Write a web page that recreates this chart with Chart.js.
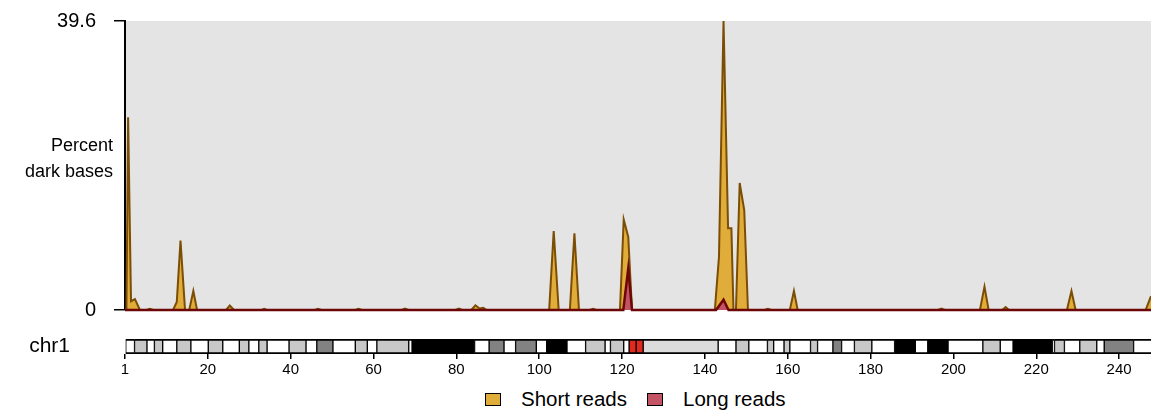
<!DOCTYPE html>
<html>
<head>
<meta charset="utf-8">
<script src="https://cdn.jsdelivr.net/npm/chart.js@4.4.0/dist/chart.umd.min.js"></script>
<style>
  html, body { margin: 0; padding: 0; background: #fff; }
  #wrap { position: relative; width: 1151px; height: 413px; overflow: hidden; font-family: "Liberation Sans", Arial, sans-serif; }
  #top { position: absolute; left: 0; top: 0; width: 1151px; height: 330px; }
  #bottom { position: absolute; left: 0; top: 325px; width: 1151px; height: 60px; }
  #legend { position: absolute; left: 485px; top: 389px; display: flex; align-items: center; font-size: 20.5px; line-height: 20px; color: #000; }
  #legend .sw { width: 14px; height: 11px; border: 1.5px solid #000; margin-right: 20px; }
  #legend .txt { margin-right: 20px; }
</style>
</head>
<body>
<div id="wrap">
  <div id="top"><canvas id="signal"></canvas></div>
  <div id="bottom"><canvas id="ideo"></canvas></div>
  <div id="legend"></div>
</div>
<script>
var FONT = '"Liberation Sans", Arial, sans-serif';

// axis ranges, Mb along chr1
var yMax = 39.6;
var yTicks = [0, 39.6];
var xMax = 247.7;
var xTicks = [0, 20, 40, 60, 80, 100, 120, 140, 160, 180, 200, 220, 240];

// percent dark bases, short reads
var shortPos = [0, 0.35, 0.75, 1.45, 2.4, 3.6,
  5.2, 6.0, 6.8,
  11.6, 12.5, 13.4, 14.5,
  15.5, 16.5, 17.4,
  24.4, 25.3, 26.3,
  33.0, 33.6, 34.2,
  45.8, 46.6, 47.4,
  55.6, 56.4, 57.2,
  66.8, 67.6, 68.4,
  79.8, 80.6, 81.4,
  83.6, 84.6, 85.6, 86.5, 87.3,
  102.4, 103.5, 104.7,
  107.4, 108.5, 109.6,
  112.2, 113.0, 113.8,
  119.5, 120.4, 121.5, 122.4,
  142.4, 143.4, 144.5, 145.6, 146.4, 146.9, 147.5, 148.4, 149.5, 150.4,
  154.4, 155.2, 156.0,
  160.5, 161.5, 162.4,
  196.3, 197.1, 197.9,
  206.4, 207.5, 208.5,
  211.8, 212.6, 213.4,
  227.4, 228.5, 229.5,
  246.4, 247.7];
var shortVal = [0, 0.2, 26.4, 1.2, 1.5, 0,
  0, 0.15, 0,
  0, 1.1, 9.5, 0,
  0, 2.6, 0,
  0, 0.6, 0,
  0, 0.15, 0,
  0, 0.15, 0,
  0, 0.15, 0,
  0, 0.2, 0,
  0, 0.2, 0,
  0, 0.65, 0.2, 0.3, 0,
  0, 10.8, 0,
  0, 10.5, 0,
  0, 0.15, 0,
  0, 12.4, 10.0, 0,
  0, 7.3, 39.6, 11.2, 11.2, 0, 0, 17.4, 13.7, 0,
  0, 0.15, 0,
  0, 2.6, 0,
  0, 0.2, 0,
  0, 3.2, 0,
  0, 0.4, 0,
  0, 2.6, 0,
  0, 1.9];

// percent dark bases, long reads
var longPos = [0, 120.3, 121.5, 122.4, 142.7, 144.5, 145.7, 247.7];
var longVal = [0, 0, 5.7, 0, 0, 1.4, 0, 0];

// chr1 cytobands (Mb)
var bandStart = [0, 2.3, 5.3, 7.1, 9.1, 12.5, 15.9, 20.1, 23.6, 27.6, 29.9, 32.3, 34.3, 39.6, 43.7, 46.3, 50.2, 55.6, 58.5, 60.8, 68.5, 69.3, 84.4, 87.9, 91.5, 94.3, 99.3, 101.8, 106.7, 111.2, 115.9, 117.2, 120.4, 121.7, 123.4, 125.1, 143.2, 147.5, 150.6, 155.1, 156.6, 159.1, 160.5, 165.5, 167.2, 170.9, 173.0, 176.1, 180.3, 185.8, 190.8, 193.8, 198.7, 207.1, 211.3, 214.4, 223.9, 224.4, 226.8, 230.5, 234.6, 236.4, 243.5];
var bandEnd = [2.3, 5.3, 7.1, 9.1, 12.5, 15.9, 20.1, 23.6, 27.6, 29.9, 32.3, 34.3, 39.6, 43.7, 46.3, 50.2, 55.6, 58.5, 60.8, 68.5, 69.3, 84.4, 87.9, 91.5, 94.3, 99.3, 101.8, 106.7, 111.2, 115.9, 117.2, 120.4, 121.7, 123.4, 125.1, 143.2, 147.5, 150.6, 155.1, 156.6, 159.1, 160.5, 165.5, 167.2, 170.9, 173.0, 176.1, 180.3, 185.8, 190.8, 193.8, 198.7, 207.1, 211.3, 214.4, 223.9, 224.4, 226.8, 230.5, 234.6, 236.4, 243.5, 249.0];
var bandStain = ['gneg', 'gpos25', 'gneg', 'gpos25', 'gneg', 'gpos50', 'gneg', 'gpos25', 'gneg', 'gpos25', 'gneg', 'gpos25', 'gneg', 'gpos25', 'gneg', 'gpos75', 'gneg', 'gpos50', 'gneg', 'gpos50', 'gneg', 'gpos100', 'gneg', 'gpos75', 'gneg', 'gpos75', 'gneg', 'gpos100', 'gneg', 'gpos50', 'gneg', 'gpos50', 'gneg', 'acen', 'acen', 'gvar', 'gneg', 'gpos50', 'gneg', 'gpos50', 'gneg', 'gpos50', 'gneg', 'gpos50', 'gneg', 'gpos75', 'gneg', 'gpos50', 'gneg', 'gpos100', 'gneg', 'gpos100', 'gneg', 'gpos25', 'gneg', 'gpos100', 'gneg', 'gpos25', 'gneg', 'gpos50', 'gneg', 'gpos75', 'gneg'];

var stainFill = { gneg: '#ffffff', gpos25: '#c8c8c8', gpos50: '#c8c8c8', gpos75: '#828282', gpos100: '#000000', gvar: '#dcdcdc', acen: '#e0291f' };

function pts(xs, ys) {
  return xs.map(function (x, i) { return { x: x, y: ys[i] }; });
}

// tick padding would otherwise also pad the chart area top and bottom
function fixedWidth(s) {
  s.width = 125;
  s.paddingTop = 0;
  s.paddingBottom = 0;
}

// grey panel behind the traces
var panelBg = {
  id: 'panelBg',
  beforeDraw: function (chart) {
    var a = chart.chartArea, ctx = chart.ctx;
    ctx.save();
    ctx.fillStyle = '#e4e4e4';
    ctx.fillRect(a.left, a.top, a.right - a.left, a.bottom - a.top);
    ctx.restore();
  }
};

// horizontal y title, left of the axis
var sideTitle = {
  id: 'sideTitle',
  afterDraw: function (chart) {
    var ctx = chart.ctx;
    ctx.save();
    ctx.font = '18px ' + FONT;
    ctx.fillStyle = '#000';
    ctx.textAlign = 'right';
    ctx.textBaseline = 'middle';
    ctx.fillText('Percent', 113, 146);
    ctx.fillText('dark bases', 113, 172);
    ctx.restore();
  }
};

var series = [
  { label: 'Short reads', data: pts(shortPos, shortVal), fill: 'origin', backgroundColor: '#e0ad3a', borderColor: '#7c4d04', order: 2 },
  { label: 'Long reads', data: pts(longPos, longVal), fill: 'origin', backgroundColor: '#c35466', borderColor: '#6d0606', order: 1 }
];
series.forEach(function (d) {
  d.borderWidth = 2;
  d.pointRadius = 0;
  d.tension = 0;
  d.clip = { left: 0, top: 3, right: 0, bottom: 3 };
});
series[1].borderWidth = 2.5;

new Chart(document.getElementById('signal').getContext('2d'), {
  type: 'line',
  data: { datasets: series },
  options: {
    responsive: true,
    maintainAspectRatio: false,
    animation: false,
    layout: { padding: { top: 21, bottom: 20, left: 0, right: 0 } },
    plugins: { legend: { display: false }, tooltip: { enabled: false } },
    scales: {
      x: { type: 'linear', min: 0, max: xMax, display: false },
      y: {
        min: 0, max: yMax,
        afterFit: fixedWidth,
        afterBuildTicks: function (s) { s.ticks = yTicks.map(function (v) { return { value: v }; }); },
        ticks: { color: '#000', font: { size: 20, family: FONT }, padding: 18, callback: function (v) { return String(v); } },
        grid: { drawOnChartArea: false, drawTicks: true, tickLength: 11, color: '#000', lineWidth: 1.5 },
        border: { display: true, color: '#000', width: 2 }
      }
    }
  },
  plugins: [panelBg, sideTitle]
});

// ideogram as floating bars under the panel
var bands = bandStart.map(function (s, i) {
  return {
    data: [[s, bandEnd[i]]],
    backgroundColor: stainFill[bandStain[i]],
    borderColor: '#000',
    borderWidth: { top: 2, bottom: 2, left: 1, right: 1 },
    borderSkipped: false,
    grouped: false,
    barPercentage: 1,
    categoryPercentage: 1
  };
});

new Chart(document.getElementById('ideo').getContext('2d'), {
  type: 'bar',
  data: { labels: ['chr1'], datasets: bands },
  options: {
    indexAxis: 'y',
    responsive: true,
    maintainAspectRatio: false,
    animation: false,
    layout: { padding: { top: 14, bottom: 0, left: 0, right: 0 } },
    plugins: { legend: { display: false }, tooltip: { enabled: false } },
    scales: {
      x: {
        type: 'linear', min: 0, max: xMax, position: 'bottom',
        afterFit: function (s) { s.height = 31; s.paddingLeft = 0; s.paddingRight = 0; },
        afterBuildTicks: function (s) { s.ticks = xTicks.map(function (v) { return { value: v }; }); },
        ticks: { color: '#000', font: { size: 15, family: FONT }, padding: 2, maxRotation: 0, autoSkip: false,
          callback: function (v) { return v === 0 ? '1' : String(v); } },
        grid: { drawOnChartArea: false, drawTicks: true, tickLength: 5, color: '#000', lineWidth: 1.5 },
        border: { display: false }
      },
      y: {
        type: 'category',
        afterFit: fixedWidth,
        ticks: { color: '#000', font: { size: 21, family: FONT }, padding: 55 },
        grid: { display: false, drawTicks: false },
        border: { display: false }
      }
    }
  }
});

// legend in html, from the dataset styles
var legend = document.getElementById('legend');
series.forEach(function (d) {
  var sw = document.createElement('span');
  sw.className = 'sw';
  sw.style.background = d.backgroundColor;
  var t = document.createElement('span');
  t.className = 'txt';
  t.textContent = d.label;
  legend.appendChild(sw);
  legend.appendChild(t);
});
</script>
</body>
</html>
